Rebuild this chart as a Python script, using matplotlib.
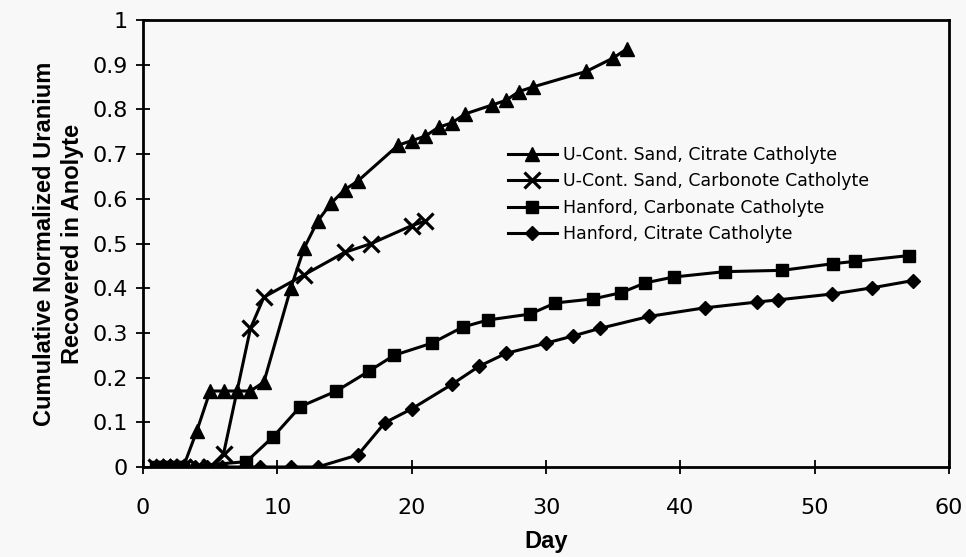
import matplotlib
matplotlib.use('Agg')
import matplotlib.pyplot as plt

# U-Cont. Sand, Citrate Catholyte
sand_citrate_day = [1, 1.5, 2, 2.5, 3, 4, 5, 6, 7, 8, 9, 11, 12, 13, 14, 15, 16,
                    19, 20, 21, 22, 23, 24, 26, 27, 28, 29, 33, 35, 36]
sand_citrate_u = [0, 0, 0, 0, 0, 0.08, 0.17, 0.17, 0.17, 0.17, 0.19, 0.40, 0.49,
                  0.55, 0.59, 0.62, 0.64, 0.72, 0.73, 0.74, 0.76, 0.77, 0.79,
                  0.81, 0.82, 0.84, 0.85, 0.885, 0.915, 0.935]

# U-Cont. Sand, Carbonate Catholyte
sand_carb_day = [1, 1.5, 2, 2.5, 3, 4, 5, 6, 8, 9, 12, 15, 17, 20, 21]
sand_carb_u = [0, 0, 0, 0, 0, 0, 0, 0.03, 0.31, 0.38, 0.43, 0.48, 0.50, 0.54, 0.55]

# Hanford, Carbonate Catholyte
hanford_carb_day = [1, 1.5, 2, 2.5, 3, 7.7, 9.7, 11.7, 14.4, 16.8, 18.7, 21.5,
                    23.8, 25.7, 28.8, 30.7, 33.5, 35.6, 37.4, 39.5, 43.3, 47.6,
                    51.4, 53.0, 57.0]
hanford_carb_u = [0, 0, 0, 0, 0, 0.012, 0.068, 0.135, 0.17, 0.214, 0.25, 0.277,
                  0.313, 0.329, 0.342, 0.367, 0.376, 0.39, 0.412, 0.425, 0.437,
                  0.44, 0.455, 0.46, 0.473]

# Hanford, Citrate Catholyte
hanford_cit_day = [1, 2, 3, 3.9, 4.8, 5.9, 8.7, 11, 13, 16, 18, 20, 23, 25, 27,
                   30, 32, 34, 37.7, 41.8, 45.7, 47.3, 51.3, 54.3, 57.3]
hanford_cit_u = [0, 0, 0, 0, 0, 0, 0, 0, 0, 0.027, 0.099, 0.13, 0.185, 0.225,
                 0.254, 0.277, 0.293, 0.31, 0.337, 0.356, 0.369, 0.374, 0.387,
                 0.401, 0.417]

x_ticks = [0, 10, 20, 30, 40, 50, 60]
y_ticks = [0, 0.1, 0.2, 0.3, 0.4, 0.5, 0.6, 0.7, 0.8, 0.9, 1]
y_tick_labels = ['0', '0.1', '0.2', '0.3', '0.4', '0.5', '0.6', '0.7', '0.8', '0.9', '1']

bg = '#f8f8f8'
fig = plt.figure(figsize=(9.66, 5.57), dpi=100, facecolor=bg)
ax = fig.add_axes([143 / 966, 1 - 467 / 557, (949 - 143) / 966, (467 - 20) / 557])
ax.set_facecolor(bg)

lw = 2.2
ax.plot(sand_citrate_day, sand_citrate_u, color='black', lw=lw, marker='^',
        ms=10, label='U-Cont. Sand, Citrate Catholyte')
ax.plot(sand_carb_day, sand_carb_u, color='black', lw=lw, marker='x', ms=11,
        mew=2.3, label='U-Cont. Sand, Carbonote Catholyte')
ax.plot(hanford_carb_day, hanford_carb_u, color='black', lw=lw, marker='s',
        ms=8.5, label='Hanford, Carbonate Catholyte')
ax.plot(hanford_cit_day, hanford_cit_u, color='black', lw=lw, marker='D',
        ms=7.5, label='Hanford, Citrate Catholyte')

ax.set_xlim(0, 60)
ax.set_ylim(0, 1)
ax.set_xticks(x_ticks)
ax.set_yticks(y_ticks)
ax.set_yticklabels(y_tick_labels)
ax.tick_params(axis='both', direction='inout', length=10, width=1.3,
               labelsize=16, colors='black')
ax.tick_params(axis='y', pad=6)
ax.tick_params(axis='x', pad=17)
for s in ax.spines.values():
    s.set_linewidth(2)

lab_font = dict(family='Liberation Sans', weight='bold', size=17)
ax.set_xlabel('Day', labelpad=9, **lab_font)
ax.set_ylabel('Cumulative Normalized Uranium\nRecovered in Anolyte',
              labelpad=6, linespacing=1.25, **lab_font)

ax.legend(loc='upper left', bbox_to_anchor=(0.453, 0.718), frameon=False,
          fontsize=12.5, handlelength=2.8, handletextpad=0.35, borderpad=0,
          borderaxespad=0, labelspacing=0.48)

fig.savefig('out.png', dpi=100, facecolor=bg)
